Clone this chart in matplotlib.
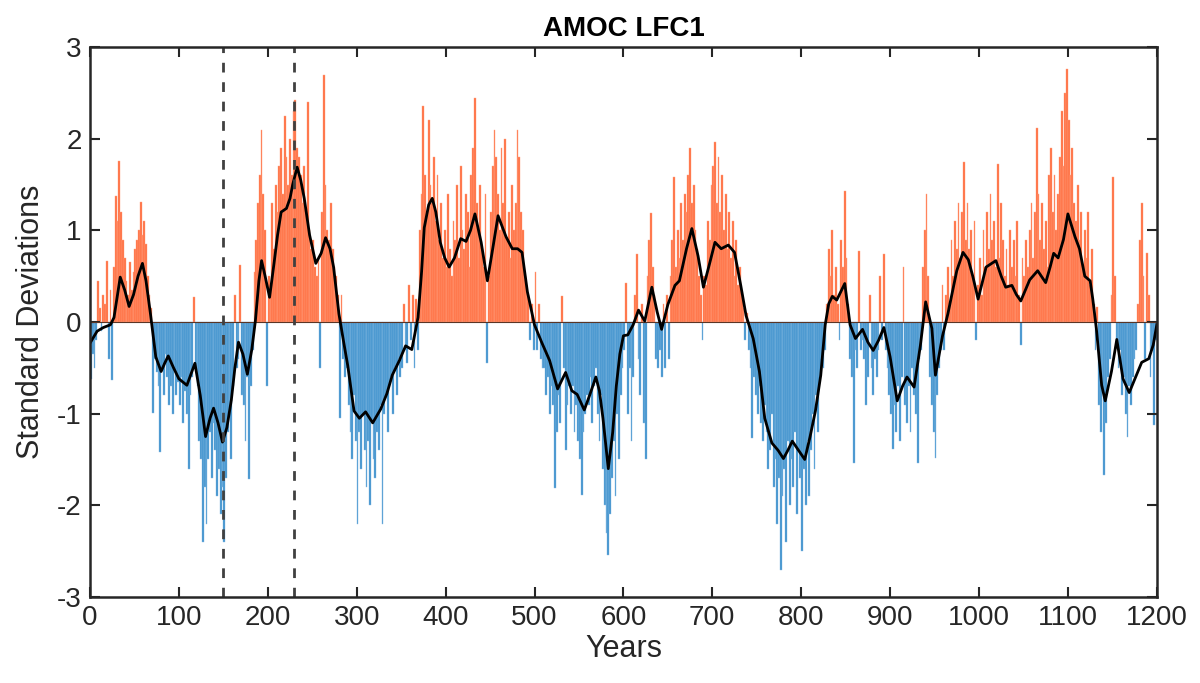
import numpy as np
import matplotlib.pyplot as plt

plt.rcParams["font.family"] = ["Liberation Sans", "DejaVu Sans"]
plt.rcParams["axes.unicode_minus"] = False

# Annual index, shown here in 2-year bins (value for years y-1..y+1)
bar_years = np.arange(1, 1200, 2)

bars_000 = [-0.62, -0.35, -0.5, -0.2, 0.45, 0.15, -0.1, 0.3, 0.2, 0.67,
            -0.4, 0.35, -0.63, 0.6, 1.38, 1.1, 1.76, 1.2, 0.9, 0.7,
            0.45, 0.3, 0.65, 0.35, 0.55, 0.8, 0.9, 1.0, 1.31, 0.95,
            1.1, 0.85, 0.5, 0.3, 0.15, -0.99, -0.4, -0.55, -0.7, -1.42,
            -0.5, -0.8, -0.35, -0.6, -0.9, -0.7, -1.0, -0.55, -0.8, -0.65]
bars_100 = [-0.9, -0.6, -1.1, -0.75, -1.0, -1.6, -0.8, -0.6, 0.27, -0.5,
            -0.7, -1.3, -1.5, -2.4, -1.8, -2.2, -1.5, -1.2, -1.7, -1.1,
            -1.4, -1.9, -1.6, -2.1, -1.8, -2.4, -1.7, -1.2, -1.0, -1.5,
            -0.7, 0.3, -0.5, -0.4, 0.62, -0.8, -0.9, -1.3, -0.6, -1.71,
            -0.7, -0.3, 0.55, 0.9, 1.3, 1.6, 2.1, 1.4, 1.0, -0.7]
bars_200 = [0.5, 0.3, 1.3, 0.8, 1.5, 1.2, 1.7, 1.9, 1.4, 2.25,
            1.8, 1.5, 2.0, 1.6, 2.3, 2.42, 1.9, 1.8, 1.6, 1.3,
            1.7, 1.2, 2.4, 1.0, 0.8, 0.9, 0.6, 0.5, 0.7, -0.5,
            1.2, 2.7, 1.5, 1.0, 0.9, 1.3, 0.8, 0.6, 0.5, 0.3,
            -1.05, 0.3, -0.4, -0.6, -0.5, -0.9, -1.2, -1.5, -0.8, -1.3]
bars_300 = [-2.2, -1.2, -1.6, -1.0, -1.4, -1.8, -1.3, -2.0, -1.1, -1.5,
            -1.7, -1.2, -1.4, -0.9, -2.2, -1.0, -0.8, -1.2, -0.7, -0.6,
            -1.0, -0.5, -0.8, -0.4, -0.6, -0.5, 0.2, -0.3, -0.45, 0.4,
            -0.2, 0.3, -0.5, 0.25, -0.3, 1.0, 1.4, 2.36, 1.6, 1.2,
            2.2, 1.5, 1.3, 1.8, 1.1, 1.6, 0.9, 1.3, 0.7, 1.0]
bars_400 = [0.6, 1.4, 0.8, 0.5, 1.1, 0.9, 1.5, 0.7, 1.7, 1.0,
            0.8, 1.4, 1.2, 0.6, 1.6, 1.9, 2.44, 1.3, 1.0, 1.5,
            0.8, 0.6, 1.4, -0.45, 0.5, 1.2, 1.7, 2.1, 1.8, 1.4,
            1.0, 1.9, 1.3, 2.0, 0.9, 1.2, 0.7, 1.5, 1.0, 1.3,
            2.1, 1.8, 1.2, 1.0, 0.5, 0.4, 0.3, -0.2, 0.2, -0.3]
bars_500 = [0.55, -0.3, 0.2, -0.4, -0.5, -0.5, -0.8, -0.6, -1.0, -0.7,
            -0.9, -1.81, -1.2, -0.8, -1.1, 0.28, -0.5, -1.4, -0.9, -0.7,
            -1.0, -0.7, -1.2, -0.9, -1.3, -1.5, -1.89, -1.2, -1.0, -0.8,
            -0.9, -0.6, -1.1, -0.7, -0.5, -1.0, -1.3, -0.8, -1.6, -2.0,
            -2.3, -2.54, -2.1, -1.7, -1.3, -1.9, -1.0, -1.5, -0.8, -0.5]
bars_600 = [-0.3, 0.43, -1.0, -0.5, -1.3, -0.6, 0.3, 0.74, -0.4, -0.8,
            0.2, -1.1, -1.5, 0.5, 0.9, 1.19, 0.6, 0.3, -0.4, -0.5,
            -0.3, -0.6, 0.2, -0.5, 0.3, -0.4, 0.5, 0.9, 1.58, 0.6,
            1.0, 0.7, 1.3, 0.9, 1.4, 1.2, 1.6, 1.9, 1.3, 1.5,
            1.0, 0.8, 0.5, 0.3, -0.2, 0.5, 0.4, 1.1, 0.9, 1.5]
bars_700 = [1.7, 1.96, 1.3, 1.8, 1.2, 1.6, 1.0, 1.4, 0.8, 1.2,
            0.7, 1.1, 0.5, 0.9, 0.4, 0.6, 0.3, 0.15, -0.2, 0.1,
            -0.3, -0.5, -1.27, -0.6, -0.8, -1.0, -0.7, -1.1, -1.3, -0.9,
            -1.2, -1.6, -1.4, -1.0, -1.8, -1.5, -2.2, -1.7, -2.71, -1.9,
            -1.6, -2.4, -1.3, -2.0, -1.5, -1.8, -1.2, -2.1, -1.4, -1.7]
bars_800 = [-2.5, -1.6, -2.0, -1.3, -1.9, -1.4, -1.0, -1.6, -0.8, -1.2,
            -0.6, -0.4, -0.5, -0.3, 0.2, 0.8, 0.5, 1.0, 0.3, 0.6,
            0.2, -0.2, 0.9, 0.6, 1.43, 0.7, 0.2, -0.4, -0.6, -1.54,
            -0.3, -0.5, 0.78, -0.3, -0.2, -0.4, -0.9, -0.6, 0.3, -0.5,
            -0.8, -0.4, -0.6, -0.3, 0.5, -0.2, 0.74, -0.3, -0.5, -0.8]
bars_900 = [-1.0, -1.39, -0.9, -1.2, -0.7, -1.3, -0.6, 0.6, -0.9, -1.1,
            -0.7, -1.2, -0.5, -0.8, -1.0, -1.54, -0.4, -0.3, 0.6, 1.0,
            1.4, 0.5, -0.6, -0.9, -1.2, -1.48, -0.8, -0.5, -0.3, 0.4,
            -0.3, 0.3, 0.6, 0.2, 0.9, 0.5, 1.1, 0.8, 1.3, 0.7,
            1.2, 1.75, 0.9, 1.3, 0.8, 1.0, 0.5, 1.1, -0.2, 0.4]
bars_1000 = [0.7, 0.3, 1.0, 0.6, 1.2, 0.8, 1.4, 0.9, 1.1, 0.6,
             1.72, 0.7, 1.3, 0.9, 0.5, 0.8, 0.4, 1.0, 0.6, 0.9,
             0.5, 1.1, 0.3, -0.25, 0.7, 0.5, 0.9, 0.6, 1.0, 1.3,
             0.7, 1.2, 2.12, 1.4, 0.9, 1.3, 0.8, 1.1, 0.6, 1.6,
             1.9, 1.2, 1.6, 1.0, 1.4, 1.8, 2.3, 1.7, 2.5, 2.76]
bars_1100 = [2.2, 1.6, 1.9, 1.3, 1.1, 1.5, 0.9, 1.2, 0.6, 1.0,
             0.7, 1.2, 0.4, 0.8, 0.2, -0.3, 0.16, -0.9, -1.2, -0.7,
             -1.67, -1.1, -0.6, -0.4, 0.3, 1.58, 0.5, -0.2, -0.5, -0.3,
             -0.8, -0.6, -1.0, -1.26, -0.7, -0.9, -0.6, -0.4, -0.3, 0.2,
             0.9, 1.3, 0.5, -0.4, 0.75, 0.3, -0.6, -0.3, -1.12, -0.2]

# Low-pass filtered index (black curve)
lfc_years = [0, 8, 15, 23, 27, 31, 34, 39, 44, 49, 54, 59, 63, 68, 74, 80, 84, 88,
             94, 100, 109, 118, 124, 130, 135, 139, 144, 149, 154, 159, 163, 167,
             172, 177, 182, 186, 190, 193, 197, 202, 207, 211, 215, 221, 225, 228,
             233, 237, 241, 247, 254, 260, 265, 270, 274, 280, 285, 290, 297, 303,
             310, 318, 327, 334, 340, 348, 355, 362, 369, 373, 376, 381, 385, 389,
             394, 399, 404, 410, 417, 423, 428, 433, 440, 447, 453, 459, 468, 475,
             481, 486, 492, 500, 508, 517, 526, 535, 542, 548, 556, 562, 569, 573,
             577, 583, 588, 592, 596, 600, 605, 611, 617, 624, 632, 638, 643, 650,
             658, 663, 671, 677, 684, 690, 697, 703, 710, 718, 725, 732, 738, 746,
             753, 759, 767, 774, 780, 785, 790, 797, 804, 810, 816, 822, 827, 831,
             835, 840, 849, 855, 861, 869, 875, 881, 887, 893, 900, 908, 914, 919,
             927, 934, 940, 947, 951, 959, 965, 975, 982, 988, 993, 999, 1008, 1019,
             1025, 1030, 1037, 1042, 1047, 1057, 1066, 1075, 1080, 1084, 1089, 1095,
             1100, 1108, 1113, 1119, 1125, 1128, 1132, 1138, 1142, 1149, 1155, 1162,
             1169, 1177, 1183, 1191, 1196, 1200]
lfc_values = [-0.23, -0.1, -0.06, -0.03, 0.05, 0.3, 0.49, 0.35, 0.17, 0.3, 0.5,
              0.64, 0.45, 0.09, -0.38, -0.54, -0.45, -0.37, -0.5, -0.62, -0.69,
              -0.45, -0.8, -1.25, -1.05, -0.94, -1.1, -1.31, -1.15, -0.85, -0.5,
              -0.22, -0.35, -0.57, -0.3, 0.01, 0.45, 0.67, 0.5, 0.27, 0.64, 0.95,
              1.2, 1.24, 1.35, 1.5, 1.69, 1.55, 1.35, 0.95, 0.64, 0.75, 0.92, 0.8,
              0.6, 0.09, -0.2, -0.48, -0.97, -1.05, -0.98, -1.1, -0.95, -0.78,
              -0.58, -0.42, -0.26, -0.3, 0.05, 0.55, 1.03, 1.28, 1.35, 1.2, 0.87,
              0.7, 0.6, 0.7, 0.91, 0.88, 1.0, 1.18, 0.87, 0.45, 0.8, 1.16, 0.93,
              0.8, 0.8, 0.76, 0.33, -0.03, -0.22, -0.42, -0.73, -0.55, -0.75, -0.79,
              -0.96, -0.8, -0.6, -0.75, -1.05, -1.6, -1.2, -0.7, -0.35, -0.15,
              -0.14, -0.03, 0.13, 0.01, 0.38, 0.11, -0.08, 0.19, 0.4, 0.45, 0.8,
              1.02, 0.72, 0.38, 0.64, 0.87, 0.8, 0.84, 0.76, 0.4, 0.07, -0.18,
              -0.54, -1.05, -1.32, -1.4, -1.49, -1.4, -1.3, -1.4, -1.5, -1.25,
              -0.97, -0.58, -0.03, 0.2, 0.28, 0.24, 0.42, -0.03, -0.18, -0.08,
              -0.22, -0.31, -0.2, -0.06, -0.38, -0.86, -0.7, -0.6, -0.71, -0.26,
              0.22, -0.07, -0.58, -0.15, 0.09, 0.56, 0.76, 0.68, 0.5, 0.25, 0.6,
              0.67, 0.5, 0.38, 0.4, 0.3, 0.23, 0.46, 0.56, 0.43, 0.6, 0.75, 0.7,
              0.9, 1.18, 0.93, 0.8, 0.5, 0.45, 0.25, -0.07, -0.69, -0.86, -0.54,
              -0.19, -0.62, -0.77, -0.58, -0.44, -0.4, -0.25, -0.03]

event_years = [150, 230]

bar_values = np.array(bars_000 + bars_100 + bars_200 + bars_300 + bars_400 + bars_500
                      + bars_600 + bars_700 + bars_800 + bars_900 + bars_1000 + bars_1100)

fig = plt.figure(figsize=(12, 6.83), dpi=100)
ax = fig.add_axes([0.075, 0.126, 0.889, 0.805])

pos = bar_values > 0
ax.bar(bar_years[pos], bar_values[pos], width=2, color="#ff6e40",
       edgecolor="#ffa585", linewidth=0.3)
ax.bar(bar_years[~pos], bar_values[~pos], width=2, color="#3f91cd",
       edgecolor="#8cbde3", linewidth=0.3)
ax.axhline(0, color="#5a3525", linewidth=0.8)

ax.plot(lfc_years, lfc_values, color="black", linewidth=2)

for yr in event_years:
    ax.axvline(yr, color="#404040", linewidth=2, linestyle=(0, (3.5, 3.5)))

ax.set_xlim(0, 1200)
ax.set_ylim(-3, 3)
ax.set_xticks(range(0, 1201, 100))
ax.set_yticks(range(-3, 4))
ax.tick_params(direction="in", top=True, right=True, length=7, width=1.5,
               labelsize=20, colors="#262626", pad=6)
for s in ax.spines.values():
    s.set_linewidth(1.8)
    s.set_color("#262626")

ax.set_xlabel("Years", fontsize=22, color="#262626", labelpad=2)
ax.set_ylabel("Standard Deviations", fontsize=22, color="#262626", labelpad=8)
ax.set_title("AMOC LFC1", fontsize=20, fontweight="bold", pad=8)

fig.savefig("out.png", dpi=100)
